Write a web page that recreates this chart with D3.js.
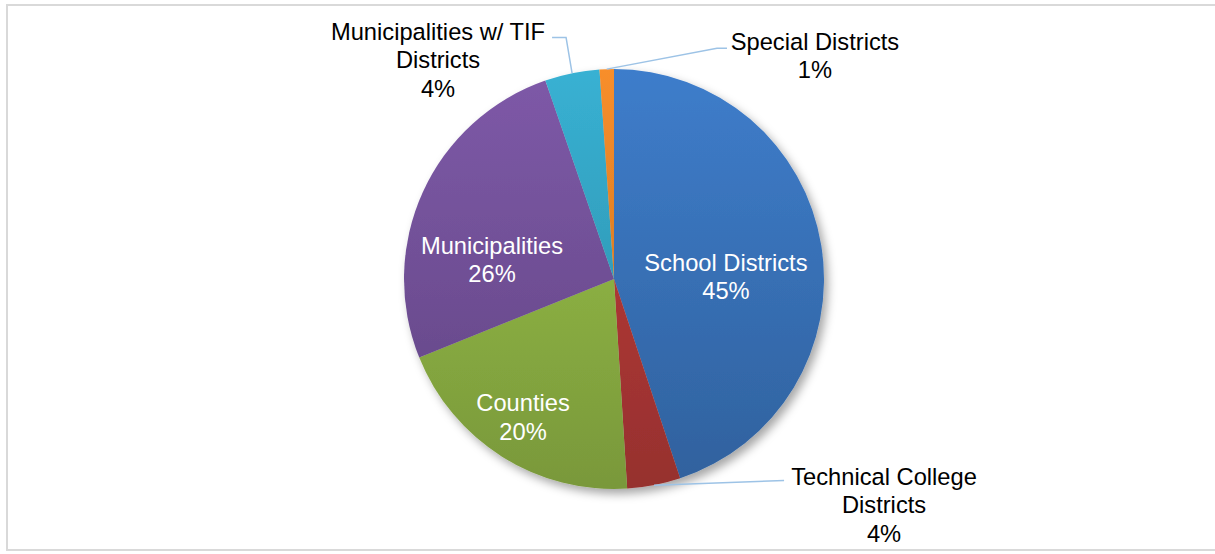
<!DOCTYPE html>
<html>
<head>
<meta charset="utf-8">
<script src="https://cdn.jsdelivr.net/npm/d3@7"></script>
<style>
  html, body { margin: 0; padding: 0; background: #fff; }
  svg { display: block; font-family: "Liberation Sans", Arial, sans-serif; }
</style>
</head>
<body>
<svg id="chart" width="1215" height="554"></svg>
<script>
const categories = ["School Districts", "Technical College Districts", "Counties", "Municipalities", "Municipalities w/ TIF Districts", "Special Districts"];
const values = [44.9, 4.1, 19.9, 25.8, 4.2, 1.1];
const colors = ["#3e7dcb", "#c23e3b", "#9cc54b", "#7e59a8", "#38b1d3", "#f88e2b"];
// label lines (text wraps the way the original does)
const labelLines = [["School Districts"], ["Technical College", "Districts"], ["Counties"], ["Municipalities"], ["Municipalities w/ TIF", "Districts"], ["Special Districts"]];
const outside = [false, true, false, false, true, true];

const svg = d3.select("#chart");
const cx = 614, cy = 279, r = 210;
const fontSize = 23.7, lineH = 28.5;

// chart frame
svg.append("rect")
  .attr("x", 7).attr("y", 5)
  .attr("width", 1230).attr("height", 545)
  .attr("fill", "none")
  .attr("stroke", "#d9d9d9")
  .attr("stroke-width", 2);

const defs = svg.append("defs");
const shadow = defs.append("filter").attr("id", "shadow")
  .attr("x", "-20%").attr("y", "-20%").attr("width", "140%").attr("height", "140%");
shadow.append("feDropShadow")
  .attr("dx", 4).attr("dy", 5).attr("stdDeviation", 5)
  .attr("flood-color", "#000").attr("flood-opacity", 0.35);

colors.forEach((c, i) => {
  const g = defs.append("linearGradient").attr("id", "grad" + i)
    .attr("gradientUnits", "userSpaceOnUse")
    .attr("x1", 0).attr("y1", -r).attr("x2", 0).attr("y2", r);
  g.append("stop").attr("offset", "0%").attr("stop-color", d3.color(c).formatHex());
  g.append("stop").attr("offset", "100%").attr("stop-color", d3.color(c).darker(0.72).formatHex());
});

const data = categories.map((name, i) => ({ name, value: values[i], i }));
const pie = d3.pie().value(d => d.value).sort(null);
const arcs = pie(data);
const arc = d3.arc().innerRadius(0).outerRadius(r);

const g = svg.append("g").attr("transform", `translate(${cx},${cy})`);

g.append("g").attr("filter", "url(#shadow)")
  .selectAll("path")
  .data(arcs)
  .enter()
  .append("path")
  .attr("d", arc)
  .attr("fill", d => `url(#grad${d.data.i})`);

// label placement relative to the pie (fractions of the radius)
const labelPos = [[0.533, -0.012], [1.286, 1.076], [-0.433, 0.657], [-0.581, -0.093], [-0.838, -1.043], [0.957, -1.064]];

function edgePoint(d, rad) {
  const a = (d.startAngle + d.endAngle) / 2;
  return [Math.sin(a) * rad, -Math.cos(a) * rad];
}

// leader lines
const leaderCol = "#9dc3e6";
arcs.forEach((d, i) => {
  if (!outside[i]) return;
  const p0 = edgePoint(d, r);
  const lx = labelPos[i][0] * r, ly = labelPos[i][1] * r;
  const nLines = labelLines[i].length + 1;
  const firstY = ly - (nLines - 1) * lineH / 2;
  let pts;
  if (i === 4) {
    const yy = firstY + 6;
    pts = [p0, [p0[0] - 6, yy], [p0[0] - 20, yy]];
  } else if (i === 5) {
    const yy = firstY + 7;
    pts = [p0, [lx - 98, yy], [lx - 88, yy]];
  } else {
    const yy = firstY + 4;
    pts = [p0, [lx - 100, yy]];
  }
  g.append("path")
    .attr("d", d3.line()(pts))
    .attr("fill", "none")
    .attr("stroke", leaderCol)
    .attr("stroke-width", 1.5);
});

// labels
arcs.forEach((d, i) => {
  const lines = labelLines[i].concat([Math.round(d.data.value) + "%"]);
  const lx = labelPos[i][0] * r, ly = labelPos[i][1] * r;
  const firstY = ly - (lines.length - 1) * lineH / 2;
  const t = g.append("text")
    .attr("text-anchor", "middle")
    .attr("font-size", fontSize)
    .attr("fill", outside[i] ? "#000" : "#fff");
  lines.forEach((ln, k) => {
    t.append("tspan")
      .attr("x", lx)
      .attr("y", firstY + k * lineH)
      .attr("dy", "0.35em")
      .text(ln);
  });
});
</script>
</body>
</html>
